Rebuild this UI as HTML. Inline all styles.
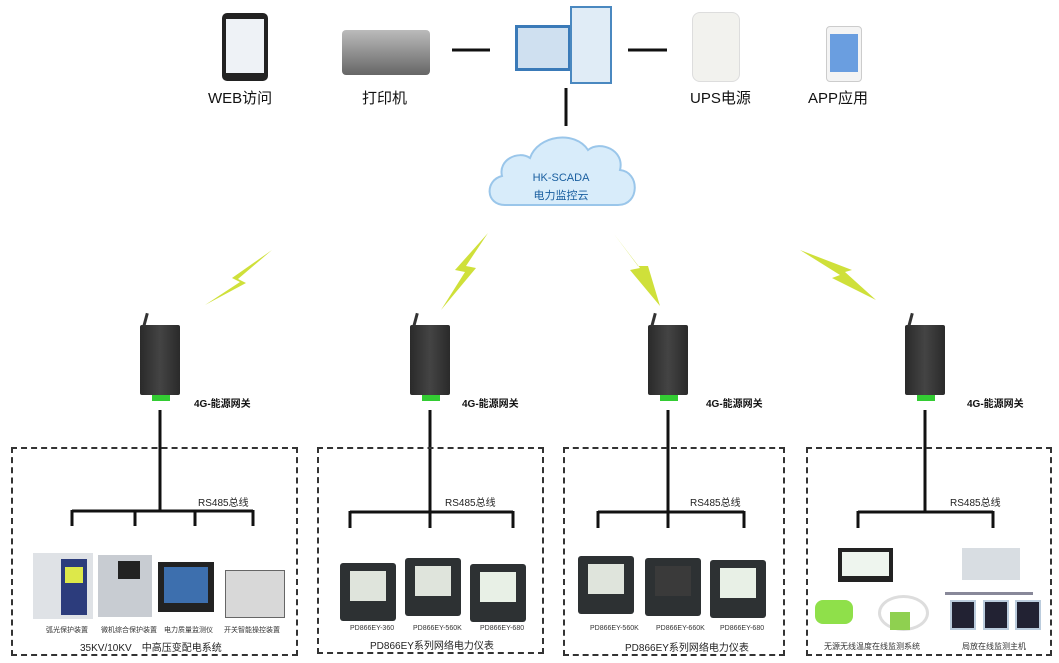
<!DOCTYPE html>
<html><head><meta charset="utf-8"><style>
body{margin:0;width:1059px;height:663px;background:#fff;overflow:hidden;position:relative;font-family:"Liberation Sans","Noto Sans CJK SC",sans-serif;}
.a{position:absolute}
.lbl{position:absolute;font-size:15px;color:#111;white-space:nowrap}
.sm{position:absolute;font-size:7px;color:#333;white-space:nowrap}
.md{position:absolute;font-size:10px;color:#222;white-space:nowrap}
.gw{position:absolute;width:40px;height:70px;background:linear-gradient(90deg,#2a2a2a,#444 50%,#2a2a2a);border-radius:2px}
.gw:before{content:"";position:absolute;left:4px;top:-12px;width:3px;height:14px;background:#333;transform:rotate(15deg)}
.gw:after{content:"";position:absolute;left:12px;bottom:-6px;width:18px;height:6px;background:#3c3}
.gl{position:absolute;font-size:10px;font-weight:bold;color:#111;white-space:nowrap}
.box{position:absolute;border:2px dashed #333}
.meter{position:absolute;width:56px;height:58px;background:#2d3133;border-radius:3px}
.meter i{position:absolute;left:10px;top:8px;width:36px;height:30px;background:#dfe4dc}
</style></head><body>
<svg class="a" style="left:0;top:0" width="1059" height="663">
<line x1="452" y1="50" x2="490" y2="50" stroke="#111" stroke-width="3"/>
<line x1="628" y1="50" x2="667" y2="50" stroke="#111" stroke-width="3"/>
<line x1="566" y1="88" x2="566" y2="126" stroke="#111" stroke-width="3"/>
<path d="M505,205 C485,205 485,180 502,176 C498,160 518,150 530,158 C538,135 575,130 588,150 C600,140 625,150 620,170 C640,172 640,205 618,205 Z" fill="#d8ecfa" stroke="#9ac6ea" stroke-width="2"/>
<g fill="#cfe03a">
<polygon points="272,250 232,278 240,282 205,305 246,283 238,279"/>
<polygon points="488,233 455,270 465,272 441,310 476,268 466,266"/>
<polygon points="614,234 640,268 630,270 660,306 648,266 638,266"/>
<polygon points="800,250 840,275 832,278 876,300 845,272 852,270"/>
</g>
<g stroke="#111" stroke-width="3" fill="none">
<line x1="160" y1="410" x2="160" y2="510"/><line x1="72" y1="511" x2="253" y2="511"/>
<line x1="72" y1="510" x2="72" y2="526"/><line x1="135" y1="510" x2="135" y2="526"/><line x1="195" y1="510" x2="195" y2="526"/><line x1="253" y1="510" x2="253" y2="526"/>
<line x1="430" y1="410" x2="430" y2="512"/><line x1="350" y1="512" x2="513" y2="512"/>
<line x1="350" y1="511" x2="350" y2="528"/><line x1="430" y1="511" x2="430" y2="528"/><line x1="513" y1="511" x2="513" y2="528"/>
<line x1="668" y1="410" x2="668" y2="512"/><line x1="598" y1="512" x2="744" y2="512"/>
<line x1="598" y1="511" x2="598" y2="528"/><line x1="668" y1="511" x2="668" y2="528"/><line x1="744" y1="511" x2="744" y2="528"/>
<line x1="925" y1="410" x2="925" y2="512"/><line x1="858" y1="512" x2="993" y2="512"/>
<line x1="858" y1="511" x2="858" y2="528"/><line x1="993" y1="511" x2="993" y2="528"/>
</g>
</svg>
<div class="a" style="left:511px;top:172px;width:100px;text-align:center;font-size:11px;color:#1a5fa0">HK-SCADA</div>
<div class="a" style="left:511px;top:187px;width:100px;text-align:center;font-size:11px;color:#1a5fa0">电力监控云</div>
<div class="a" style="left:222px;top:13px;width:46px;height:68px;background:#222;border-radius:5px"><div class="a" style="left:4px;top:6px;width:38px;height:54px;background:#eef2f6"></div></div>
<div class="a" style="left:342px;top:30px;width:88px;height:45px;background:linear-gradient(#bbb,#666);border-radius:4px"></div>
<div class="a" style="left:515px;top:25px;width:50px;height:40px;background:#cfe0f0;border:3px solid #3a7ab8"></div>
<div class="a" style="left:570px;top:6px;width:38px;height:74px;background:#e0ecf6;border:2px solid #4a88c0"></div>
<div class="a" style="left:692px;top:12px;width:46px;height:68px;background:#f2f2ee;border-radius:8px;border:1px solid #ddd"></div>
<div class="a" style="left:826px;top:26px;width:34px;height:54px;background:#f4f4f4;border:1px solid #ccc;border-radius:4px"><div class="a" style="left:3px;top:7px;width:28px;height:38px;background:#6a9ee0"></div></div>
<div class="lbl" style="left:208px;top:87px">WEB访问</div>
<div class="lbl" style="left:362px;top:87px">打印机</div>
<div class="lbl" style="left:690px;top:87px">UPS电源</div>
<div class="lbl" style="left:808px;top:87px">APP应用</div>
<div class="gw" style="left:140px;top:325px"></div><div class="gl" style="left:194px;top:395px">4G-能源网关</div>
<div class="gw" style="left:410px;top:325px"></div><div class="gl" style="left:462px;top:395px">4G-能源网关</div>
<div class="gw" style="left:648px;top:325px"></div><div class="gl" style="left:706px;top:395px">4G-能源网关</div>
<div class="gw" style="left:905px;top:325px"></div><div class="gl" style="left:967px;top:395px">4G-能源网关</div>
<div class="md" style="left:198px;top:494px">RS485总线</div>
<div class="md" style="left:445px;top:494px">RS485总线</div>
<div class="md" style="left:690px;top:494px">RS485总线</div>
<div class="md" style="left:950px;top:494px">RS485总线</div>
<div class="box" style="left:11px;top:447px;width:283px;height:205px"></div>
<div class="box" style="left:317px;top:447px;width:223px;height:203px"></div>
<div class="box" style="left:563px;top:447px;width:218px;height:205px"></div>
<div class="box" style="left:806px;top:447px;width:242px;height:205px"></div>
<div class="a" style="left:33px;top:553px;width:60px;height:66px;background:#dfe2e6"><div class="a" style="left:28px;top:6px;width:26px;height:56px;background:#2c3c7c"><div class="a" style="left:4px;top:8px;width:18px;height:16px;background:#dde84a"></div></div></div>
<div class="a" style="left:98px;top:555px;width:54px;height:62px;background:#c8ccd2"><div class="a" style="left:20px;top:6px;width:22px;height:18px;background:#222"></div></div>
<div class="a" style="left:158px;top:562px;width:56px;height:50px;background:#222"><div class="a" style="left:6px;top:5px;width:44px;height:36px;background:#3d6fae"></div></div>
<div class="a" style="left:225px;top:570px;width:58px;height:46px;background:#d8d8d8;border:1px solid #666"></div>
<div class="sm" style="left:46px;top:625px">弧光保护装置</div>
<div class="sm" style="left:101px;top:625px">微机综合保护装置</div>
<div class="sm" style="left:164px;top:625px">电力质量监测仪</div>
<div class="sm" style="left:224px;top:625px">开关智能操控装置</div>
<div class="md" style="left:80px;top:639px">35KV/10KV　中高压变配电系统</div>
<div class="meter" style="left:340px;top:563px"><i></i></div>
<div class="meter" style="left:405px;top:558px"><i></i></div>
<div class="meter" style="left:470px;top:564px"><i style="background:#e8f0e6"></i></div>
<div class="sm" style="left:350px;top:625px">PD866EY-360</div>
<div class="sm" style="left:413px;top:625px">PD866EY-560K</div>
<div class="sm" style="left:480px;top:625px">PD866EY-680</div>
<div class="md" style="left:370px;top:637px">PD866EY系列网络电力仪表</div>
<div class="meter" style="left:578px;top:556px"><i></i></div>
<div class="meter" style="left:645px;top:558px"><i style="background:#3a3a3a"></i></div>
<div class="meter" style="left:710px;top:560px"><i style="background:#e8f0e6"></i></div>
<div class="sm" style="left:590px;top:625px">PD866EY-560K</div>
<div class="sm" style="left:656px;top:625px">PD866EY-660K</div>
<div class="sm" style="left:720px;top:625px">PD866EY-680</div>
<div class="md" style="left:625px;top:639px">PD866EY系列网络电力仪表</div>
<div class="a" style="left:838px;top:548px;width:55px;height:34px;background:#222"><div class="a" style="left:4px;top:4px;width:47px;height:24px;background:#eef5ee"></div></div>
<div class="a" style="left:815px;top:600px;width:38px;height:24px;background:#8fe04a;border-radius:8px"></div>
<div class="a" style="left:878px;top:595px;width:45px;height:30px;border:3px solid #ddd;border-radius:50%"></div>
<div class="a" style="left:890px;top:612px;width:20px;height:18px;background:#8fd050"></div>
<div class="a" style="left:962px;top:548px;width:58px;height:32px;background:#d8dde2"></div>
<div class="a" style="left:945px;top:592px;width:88px;height:3px;background:#889"></div>
<div class="a" style="left:950px;top:600px;width:22px;height:26px;background:#223;border:2px solid #bcd"></div>
<div class="a" style="left:983px;top:600px;width:22px;height:26px;background:#223;border:2px solid #bcd"></div>
<div class="a" style="left:1015px;top:600px;width:22px;height:26px;background:#223;border:2px solid #bcd"></div>
<div class="sm" style="left:824px;top:641px;font-size:8px">无源无线温度在线监测系统</div>
<div class="sm" style="left:962px;top:641px;font-size:8px">局放在线监测主机</div>
</body></html>
